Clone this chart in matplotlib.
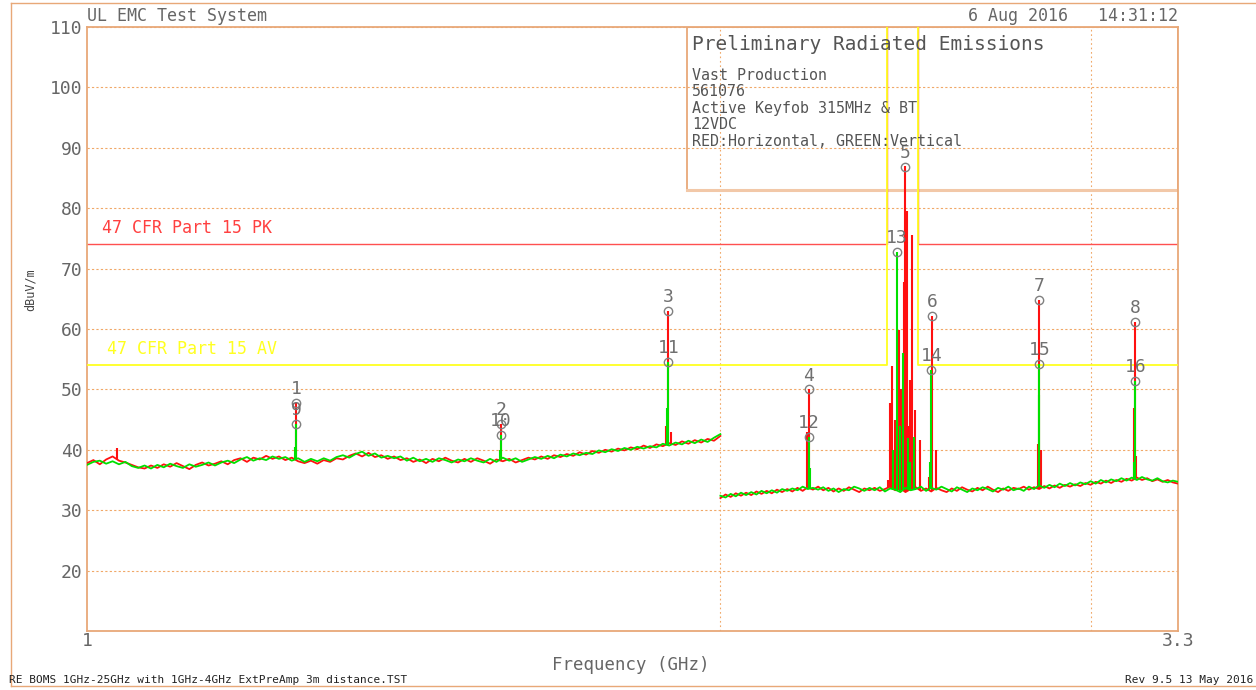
import numpy as np
import matplotlib
matplotlib.use("Agg")
import matplotlib.pyplot as plt
from matplotlib.lines import Line2D
from matplotlib.patches import Rectangle
from matplotlib.ticker import FixedLocator, NullFormatter

# sweep grid (GHz), preamp band switches at 2 GHz
seg1_freq = np.geomspace(1.0, 2.0, 100)
seg2_freq = np.geomspace(2.0, 3.3, 90)

# noise floor, horizontal (red) and vertical (green) polarisation, dBuV/m
h_seg1 = [37.8, 38.3, 37.6, 38.4, 38.9, 38.2, 37.9, 37.5, 37.1, 36.9,
          37.4, 37.0, 37.6, 37.2, 37.8, 37.3, 36.8, 37.5, 37.9, 37.4,
          37.7, 38.1, 37.6, 38.3, 38.6, 38.0, 38.7, 38.4, 39.0, 38.5,
          38.9, 38.3, 38.7, 38.1, 37.8, 38.2, 37.7, 38.3, 38.0, 38.6,
          38.4, 39.0, 39.4, 38.9, 39.5, 38.8, 39.1, 38.5, 38.9, 38.3,
          38.6, 38.0, 38.4, 37.8, 38.5, 38.1, 38.7, 38.2, 37.9, 38.5,
          38.0, 38.6, 38.2, 37.7, 38.4, 38.1, 38.5, 37.9, 38.3, 38.7,
          38.4, 38.9, 38.5, 39.1, 38.8, 39.3, 39.0, 39.6, 39.2, 39.8,
          39.5, 40.0, 39.7, 40.2, 39.9, 40.4, 40.1, 40.7, 40.3, 40.9,
          40.6, 41.1, 40.8, 41.4, 41.0, 41.6, 41.2, 41.8, 41.5, 42.3]
v_seg1 = [37.5, 38.0, 38.2, 37.7, 38.1, 37.6, 38.0, 37.3, 37.0, 37.4,
          36.9, 37.5, 37.1, 37.7, 37.3, 37.0, 37.6, 37.2, 37.5, 37.9,
          37.4, 37.9, 38.2, 37.8, 38.4, 38.8, 38.2, 38.6, 38.3, 38.9,
          38.5, 38.8, 38.2, 38.6, 38.0, 38.5, 38.1, 38.6, 38.2, 38.8,
          39.1, 38.7, 39.3, 39.7, 39.0, 39.4, 38.7, 39.0, 38.6, 38.9,
          38.2, 38.7, 38.1, 38.5, 38.0, 38.6, 38.3, 37.9, 38.4, 38.1,
          38.6, 38.2, 37.9, 38.5, 38.0, 38.7, 38.2, 38.6, 38.0, 38.4,
          38.8, 38.5, 39.0, 38.6, 39.2, 38.9, 39.4, 39.1, 39.5, 39.3,
          39.9, 39.6, 40.1, 39.8, 40.3, 40.0, 40.5, 40.2, 40.6, 40.4,
          41.0, 40.7, 41.2, 40.9, 41.5, 41.1, 41.7, 41.3, 42.0, 42.6]
h_seg2 = [32.0, 32.6, 32.2, 32.8, 32.4, 32.9, 32.5, 33.1, 32.7, 33.2,
          32.8, 33.4, 33.0, 33.5, 33.1, 33.7, 33.2, 33.8, 33.4, 33.9,
          33.3, 33.7, 33.1, 33.6, 33.2, 33.8, 33.4, 33.0, 33.6, 33.3,
          33.7, 33.2, 33.5, 33.9, 33.3, 33.6, 33.0, 33.5, 33.8, 33.2,
          33.6, 33.1, 33.7, 33.3, 33.0, 33.6, 33.2, 33.8, 33.4, 33.1,
          33.7, 33.3, 33.9, 33.4, 33.0, 33.6, 33.2, 33.7, 33.5, 33.9,
          33.4, 33.8, 33.5, 34.0, 33.6, 34.1, 33.7, 34.2, 33.9, 34.3,
          34.0, 34.5, 34.2, 34.7, 34.4, 34.9, 34.5, 35.0, 34.7, 35.2,
          34.9, 35.4, 35.0, 35.3, 34.8, 35.1, 34.7, 35.0, 34.6, 34.4]
v_seg2 = [32.4, 32.1, 32.7, 32.3, 32.9, 32.5, 33.0, 32.6, 33.2, 32.8,
          33.3, 32.9, 33.5, 33.2, 33.6, 33.3, 33.9, 33.5, 33.7, 33.4,
          33.8, 33.2, 33.6, 33.0, 33.5, 33.3, 33.9, 33.6, 33.2, 33.7,
          33.3, 33.8, 33.1, 33.6, 33.4, 33.0, 33.7, 33.3, 33.5, 33.9,
          33.2, 33.7, 33.4, 33.9, 33.5, 33.1, 33.8, 33.4, 33.0, 33.6,
          33.3, 33.8, 33.5, 33.1, 33.7, 33.4, 33.9, 33.3, 33.6, 33.2,
          33.9, 33.5, 34.1, 33.7, 34.2, 33.8, 34.4, 34.0, 34.5, 34.1,
          34.6, 34.3, 34.8, 34.4, 35.0, 34.6, 35.1, 34.8, 35.3, 34.9,
          35.4, 35.0, 35.5, 35.1, 34.9, 35.3, 34.8, 34.6, 34.9, 34.7]

# emissions sticking out of the floor
h_spike_freq = [1.033, 1.257, 1.573, 1.884, 1.889, 1.894, 2.200, 2.203,
                2.402, 2.408, 2.412, 2.420, 2.432, 2.438, 2.444, 2.448,
                2.453, 2.458, 2.462, 2.467, 2.475, 2.489, 2.512, 2.521,
                2.532, 2.831, 2.835, 2.840, 3.146, 3.149, 3.153]
h_spike_level = [40.3, 47.7, 44.3, 44.0, 63.0, 43.0, 43.0, 50.0,
                 35.0, 47.7, 53.8, 45.0, 59.8, 50.0, 67.8, 87.0,
                 79.5, 44.0, 51.5, 75.5, 46.6, 41.6, 35.5, 62.2,
                 40.0, 41.0, 64.8, 40.0, 47.0, 61.2, 39.0]
v_spike_freq = [1.255, 1.257, 1.571, 1.573, 1.886, 1.889, 2.203, 2.205,
                2.415, 2.426, 2.435, 2.442, 2.455, 2.460, 2.472, 2.515,
                2.519, 2.833, 2.835, 3.145, 3.149]
v_spike_level = [40.5, 44.3, 40.0, 42.5, 47.0, 54.5, 42.1, 37.0,
                 40.0, 72.7, 44.0, 56.0, 42.0, 38.0, 42.2, 38.0,
                 53.2, 49.0, 54.2, 38.0, 51.4]

# numbered markers (1-8 horizontal peaks, 9-16 vertical peaks)
marker_id = list(range(1, 17))
marker_freq = [1.257, 1.573, 1.889, 2.203, 2.448, 2.521, 2.835, 3.149,
               1.257, 1.573, 1.889, 2.203, 2.426, 2.519, 2.835, 3.149]
marker_level = [47.7, 44.3, 63.0, 50.0, 86.8, 62.2, 64.8, 61.2,
                44.3, 42.5, 54.5, 42.1, 72.7, 53.2, 54.2, 51.4]

# FCC limits, opened up over the 2.4 GHz band
limit_freq = [1.0, 2.4, 2.4, 2.4835, 2.4835, 3.3]
pk_limit = [74, 74, 130, 130, 74, 74]
av_limit = [54, 54, 130, 130, 54, 54]

y_ticks = [20, 30, 40, 50, 60, 70, 80, 90, 100, 110]
x_ticks = [1, 3.3]
x_grid = [2, 3]

info_lines = ["Vast Production", "561076", "Active Keyfob 315MHz & BT",
              "12VDC", "RED:Horizontal, GREEN:Vertical"]

FONT = "DejaVu Sans Mono"
TAN = "#E8A878"
GRID = "#F0A868"
RED = "#FF1010"
GREEN = "#00E000"
YELLOW = "#FFFF20"
TXT = "#666666"

fig = plt.figure(figsize=(12.56, 6.90), dpi=100)
ax = fig.add_axes([87 / 1256, 1 - 631 / 690, (1178 - 87) / 1256, (631 - 27) / 690])

ax.set_xscale("log")
ax.set_xlim(1, 3.3)
ax.set_ylim(10, 110)

ax.set_yticks(y_ticks)
ax.set_yticklabels([str(t) for t in y_ticks], family=FONT, fontsize=13, color=TXT)
ax.set_xticks(x_ticks)
ax.set_xticklabels(["1", "3.3"], family=FONT, fontsize=13, color=TXT)
ax.xaxis.set_minor_locator(FixedLocator(x_grid))
ax.xaxis.set_minor_formatter(NullFormatter())
ax.tick_params(which="both", length=0)
ax.tick_params(axis="y", pad=3)
ax.tick_params(axis="x", pad=1)

ax.grid(axis="y", which="major", color=GRID, ls=(0, (2, 2)), lw=0.8, zorder=0)
ax.grid(axis="x", which="minor", color=GRID, ls=(0, (1.5, 2.5)), lw=0.8, zorder=0)
for s in ax.spines.values():
    s.set_color(TAN)
    s.set_linewidth(1.3)

# info box in upper right
box = Rectangle((0.55, 0.7305), 0.45, 0.2695, transform=ax.transAxes,
                facecolor="white", edgecolor=TAN, lw=1.3, zorder=1.5)
ax.add_patch(box)
ax.plot([0.55, 1.0], [0.7305, 0.7305], transform=ax.transAxes,
        color="#F2C8A8", lw=2.2, zorder=1.6)

# traces
ax.plot(seg1_freq, h_seg1, color=RED, lw=1.3, zorder=3)
ax.plot(seg2_freq, h_seg2, color=RED, lw=1.3, zorder=3)
ax.plot(seg1_freq, v_seg1, color=GREEN, lw=1.3, zorder=3.2)
ax.plot(seg2_freq, v_seg2, color=GREEN, lw=1.3, zorder=3.2)

all_freq = np.concatenate([seg1_freq, seg2_freq])
h_base = np.interp(h_spike_freq, all_freq, np.concatenate([h_seg1, h_seg2]))
v_base = np.interp(v_spike_freq, all_freq, np.concatenate([v_seg1, v_seg2]))
ax.vlines(h_spike_freq, h_base, h_spike_level, color=RED, lw=1.5, zorder=3.1)
ax.vlines(v_spike_freq, v_base, v_spike_level, color=GREEN, lw=1.5, zorder=3.3)

# limits
ax.plot(limit_freq, pk_limit, color="#FF5050", lw=1.0, zorder=2.5)
ax.plot(limit_freq, av_limit, color=YELLOW, lw=1.3, zorder=2.6)
ax.text(0.0135, 76.7, "47 CFR Part 15 PK", transform=ax.get_yaxis_transform(),
        family=FONT, fontsize=12, color="#FF4040", va="center")
ax.text(0.018, 56.7, "47 CFR Part 15 AV", transform=ax.get_yaxis_transform(),
        family=FONT, fontsize=12, color=YELLOW, va="center")

# markers
ax.plot(marker_freq, marker_level, ls="none", marker="o", ms=6, mfc="none",
        mec="#808080", mew=1.0, zorder=4)
for mid, f, lv in zip(marker_id, marker_freq, marker_level):
    ax.annotate(str(mid), (f, lv), xytext=(0, 10), textcoords="offset points",
                ha="center", va="center", family=FONT, fontsize=13,
                color="#707070", zorder=5)

# header / footer texts
fig.text(87 / 1256, 1 - 16 / 690, "UL EMC Test System", family=FONT,
         fontsize=12, color=TXT, va="center")
fig.text(1178 / 1256, 1 - 16 / 690, "6 Aug 2016   14:31:12", family=FONT,
         fontsize=12, color=TXT, va="center", ha="right")
fig.text(692 / 1256, 1 - 45 / 690, "Preliminary Radiated Emissions",
         family=FONT, fontsize=14, color="#555555", va="center")
for i, line in enumerate(info_lines):
    fig.text(692 / 1256, 1 - (75 + 16.5 * i) / 690, line, family=FONT,
             fontsize=10.8, color="#555555", va="center")

fig.text(30 / 1256, 1 - 290 / 690, "dBuV/m", family=FONT, fontsize=8.5,
         color="#444444", rotation=90, ha="center", va="center")
fig.text(631 / 1256, 1 - 665 / 690, "Frequency (GHz)", family=FONT,
         fontsize=12.5, color=TXT, ha="center", va="center")
fig.text(9 / 1256, 1 - 680 / 690,
         "RE BOMS 1GHz-25GHz with 1GHz-4GHz ExtPreAmp 3m distance.TST",
         family=FONT, fontsize=8, color="#222222", va="center")
fig.text(1253 / 1256, 1 - 680 / 690, "Rev 9.5 13 May 2016", family=FONT,
         fontsize=8, color="#222222", va="center", ha="right")

# outer page frame
for xs, ys in [((11 / 1256, 1.0), (1 - 3 / 690, 1 - 3 / 690)),
               ((11 / 1256, 11 / 1256), (1 - 3 / 690, 1 - 686 / 690)),
               ((11 / 1256, 1.0), (1 - 686 / 690, 1 - 686 / 690))]:
    fig.add_artist(Line2D(xs, ys, color=TAN, lw=1.0))

fig.savefig("out.png", dpi=100)
